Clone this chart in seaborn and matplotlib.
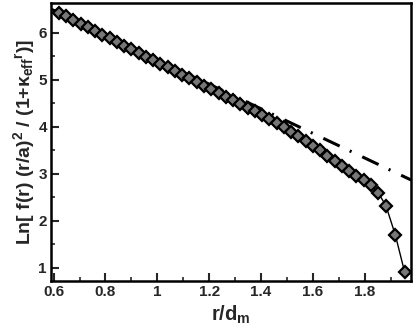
import matplotlib
matplotlib.use("Agg")
import matplotlib.pyplot as plt
import seaborn as sns
import numpy as np
import pandas as pd

# data
r_over_dm = [0.620, 0.648, 0.676, 0.704, 0.732, 0.760, 0.788, 0.816, 0.844, 0.872,
             0.900, 0.928, 0.956, 0.984, 1.012, 1.040, 1.068, 1.096, 1.124, 1.152,
             1.180, 1.208, 1.236, 1.264, 1.292, 1.320, 1.348, 1.376, 1.404, 1.432,
             1.460, 1.488, 1.516, 1.544, 1.572, 1.600, 1.628, 1.656, 1.684, 1.712,
             1.740, 1.768, 1.796, 1.824, 1.852, 1.882, 1.918, 1.954]
ln_values = [6.430, 6.352, 6.275, 6.197, 6.120, 6.042, 5.965, 5.887, 5.810, 5.732,
             5.654, 5.577, 5.499, 5.422, 5.344, 5.267, 5.189, 5.112, 5.034, 4.956,
             4.879, 4.801, 4.724, 4.646, 4.569, 4.491, 4.413, 4.336, 4.250, 4.165,
             4.080, 3.990, 3.900, 3.800, 3.700, 3.600, 3.500, 3.390, 3.280, 3.170,
             3.060, 2.960, 2.870, 2.760, 2.600, 2.320, 1.700, 0.910]

# linear fit (dash-dot line)
fit_slope = -2.62
fit_intercept = 8.054
fit_x_range = [0.59, 1.98]

x_ticks = [0.6, 0.8, 1.0, 1.2, 1.4, 1.6, 1.8]
x_tick_labels = ["0.6", "0.8", "1", "1.2", "1.4", "1.6", "1.8"]
y_ticks = [1, 2, 3, 4, 5, 6]

sns.set_theme(style="ticks")
plt.rcParams["font.family"] = ["Liberation Sans", "DejaVu Sans"]
plt.rcParams["font.weight"] = "bold"
plt.rcParams["mathtext.fontset"] = "custom"
plt.rcParams["mathtext.rm"] = "Liberation Sans:bold"
plt.rcParams["mathtext.it"] = "Liberation Sans:bold"
plt.rcParams["mathtext.bf"] = "Liberation Sans:bold"
plt.rcParams["lines.scale_dashes"] = False

fig = plt.figure(figsize=(4.15, 3.27), dpi=100)
ax = fig.add_axes([0.123, 0.141, 0.867, 0.850])

fit_df = pd.DataFrame({"x": fit_x_range,
                       "y": [fit_intercept + fit_slope * v for v in fit_x_range]})
sns.lineplot(data=fit_df, x="x", y="y", ax=ax, color="black", linewidth=2.2,
             dashes=False, zorder=1)
ax.lines[-1].set_dashes((13, 8, 1.5, 8.5))

df = pd.DataFrame({"x": r_over_dm, "y": ln_values})
sns.lineplot(data=df, x="x", y="y", ax=ax, color="black", linewidth=1.0,
             marker="D", markersize=6.5, markerfacecolor="#777777",
             markeredgecolor="black", markeredgewidth=1.6, zorder=2)

ax.set_xlim(0.59, 1.978)
ax.set_ylim(0.72, 6.64)
ax.set_xticks(x_ticks)
ax.set_xticklabels(x_tick_labels)
ax.set_yticks(y_ticks)
ax.xaxis.set_minor_locator(matplotlib.ticker.MultipleLocator(0.1))
ax.yaxis.set_minor_locator(matplotlib.ticker.MultipleLocator(0.5))
ax.tick_params(which="major", direction="in", length=6, width=1.5,
               labelsize=11, pad=3, top=False, right=False)
ax.tick_params(which="minor", direction="in", length=3, width=1.2,
               top=False, right=False)
for lab in ax.get_xticklabels() + ax.get_yticklabels():
    lab.set_fontweight("bold")
for sp in ax.spines.values():
    sp.set_linewidth(1.8)
    sp.set_visible(True)
    sp.set_color("black")

ax.set_xlabel(r"r/d$_m$", fontsize=14.5, fontweight="bold", labelpad=3)
ax.set_ylabel(r"Ln[ f(r) (r/a)$^2$ / (1+$κ_{eff}$$^r$)]", fontsize=14,
              fontweight="bold", labelpad=1)

fig.savefig("out.png", dpi=100)
